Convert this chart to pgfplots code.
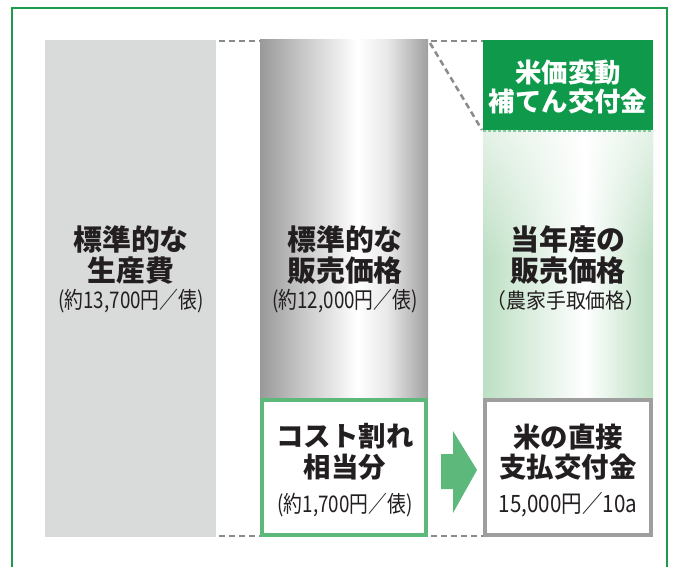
\documentclass[border=0pt]{standalone}
\usepackage{fontspec}
\setmainfont{Noto Sans CJK JP}
\usepackage{graphicx}
\usepackage{pgfplots}
\pgfplotsset{compat=1.18}
\usetikzlibrary{fadings}
\definecolor{frameg}{HTML}{1E9A4B}
\definecolor{bargray}{HTML}{D9DBDA}
\definecolor{darkg}{HTML}{0E9A4A}
\definecolor{midg}{HTML}{5DB97B}
\definecolor{boxgray}{HTML}{9E9E9E}
\definecolor{dashgray}{HTML}{8A8A8A}
\definecolor{txt}{HTML}{231F20}
\definecolor{lgreen}{HTML}{BCDFC3}
\pgfdeclarehorizontalshading{silver}{100bp}{color(0bp)=(gray!80); color(25bp)=(gray!80); color(37bp)=(gray!45); color(54bp)=(white); color(63bp)=(gray!18); color(75bp)=(gray!75); color(100bp)=(gray!75)}
\pgfdeclarehorizontalshading{mint}{100bp}{color(0bp)=(lgreen); color(25bp)=(lgreen); color(55bp)=(white); color(75bp)=(lgreen); color(100bp)=(lgreen)}
\newcommand{\cond}[2]{\scalebox{#1}[1]{#2}}
\begin{document}
\begin{tikzpicture}
\begin{axis}[width=678bp, height=567bp, scale only axis, xmin=0, xmax=678, ymin=0, ymax=567, y dir=reverse, hide axis, clip=false]
% invisible bounding rectangle
\addplot[draw=none] coordinates {(0,0) (678,567)};
% outer frame
\addplot[frameg, line width=2bp] coordinates {(12,567) (12,8) (667,8) (667,567)};
% bar 1
\addplot[draw=none, fill=bargray] coordinates {(45,40) (216,40) (216,537) (45,537)} -- cycle;
% bar 2 gradient
\addplot[draw=none, shading=silver] coordinates {(260,40) (428,40) (428,398) (260,398)} -- cycle;
% bar 2 lower box
\addplot[midg, fill=white, line width=4bp] coordinates {(262,400) (426,400) (426,535) (262,535)} -- cycle;
% bar 3 light green
\addplot[draw=none, shading=mint] coordinates {(483,130) (653,130) (653,398) (483,398)} -- cycle;
\addplot[draw=none, fill=white, fill opacity=0.6, path fading=south] coordinates {(483,130) (653,130) (653,260) (483,260)} -- cycle;
% bar 3 dark green box
\addplot[draw=none, fill=darkg] coordinates {(483,40) (653,40) (653,130) (483,130)} -- cycle;
\addplot[lgreen!70!darkg, line width=2bp, dash pattern=on 3bp off 2bp] coordinates {(483,131) (653,131)};
% bar 3 lower box
\addplot[boxgray, fill=white, line width=4bp] coordinates {(485,400) (651,400) (651,535) (485,535)} -- cycle;
% dashed connectors
\addplot[dashgray, line width=2.5bp, dash pattern=on 6bp off 4bp] coordinates {(219,41) (260,41)};
\addplot[dashgray, line width=2.5bp, dash pattern=on 6bp off 4bp] coordinates {(431,41) (483,41)};
\addplot[dashgray, line width=2.5bp, dash pattern=on 6bp off 4bp] coordinates {(430,43) (482,130)};
\addplot[dashgray, line width=2.5bp, dash pattern=on 6bp off 4bp] coordinates {(219,536) (260,536)};
\addplot[dashgray, line width=2.5bp, dash pattern=on 6bp off 4bp] coordinates {(431,536) (483,536)};
% arrow
\addplot[draw=none, fill=midg] coordinates {(441,454) (453,454) (453,431) (477,470) (453,513) (453,489) (441,489)} -- cycle;
% texts
\node[txt, font=\bfseries\fontsize{29}{31}\selectfont, align=center] at (axis cs:131,255) {標準的な\\生産費};
\node[txt, font=\fontsize{23}{24}\selectfont] at (axis cs:131,301) {\cond{0.82}{(約13,700円／俵)}};
\node[txt, font=\bfseries\fontsize{29}{31}\selectfont, align=center] at (axis cs:345,255) {標準的な\\販売価格};
\node[txt, font=\fontsize{23}{24}\selectfont] at (axis cs:345,301) {\cond{0.82}{(約12,000円／俵)}};
\node[txt, font=\bfseries\fontsize{29}{31}\selectfont, align=center] at (axis cs:568,255) {当年産の\\販売価格};
\node[txt, font=\fontsize{21}{22}\selectfont] at (axis cs:566,301) {\cond{0.95}{（農家手取価格）}};
\node[white, font=\bfseries\fontsize{26.5}{29}\selectfont, align=center] at (axis cs:568,87) {米価変動\\補てん交付金};
\node[txt, font=\bfseries\fontsize{27.5}{31}\selectfont, align=center] at (axis cs:345,452) {コスト割れ\\相当分};
\node[txt, font=\fontsize{23}{24}\selectfont] at (axis cs:345,505) {\cond{0.82}{(約1,700円／俵)}};
\node[txt, font=\bfseries\fontsize{27.5}{31}\selectfont, align=center] at (axis cs:568,452) {米の直接\\支払交付金};
\node[txt, font=\fontsize{24}{25}\selectfont] at (axis cs:568,505) {\cond{0.86}{15,000円／10a}};
\end{axis}
\end{tikzpicture}
\end{document}
